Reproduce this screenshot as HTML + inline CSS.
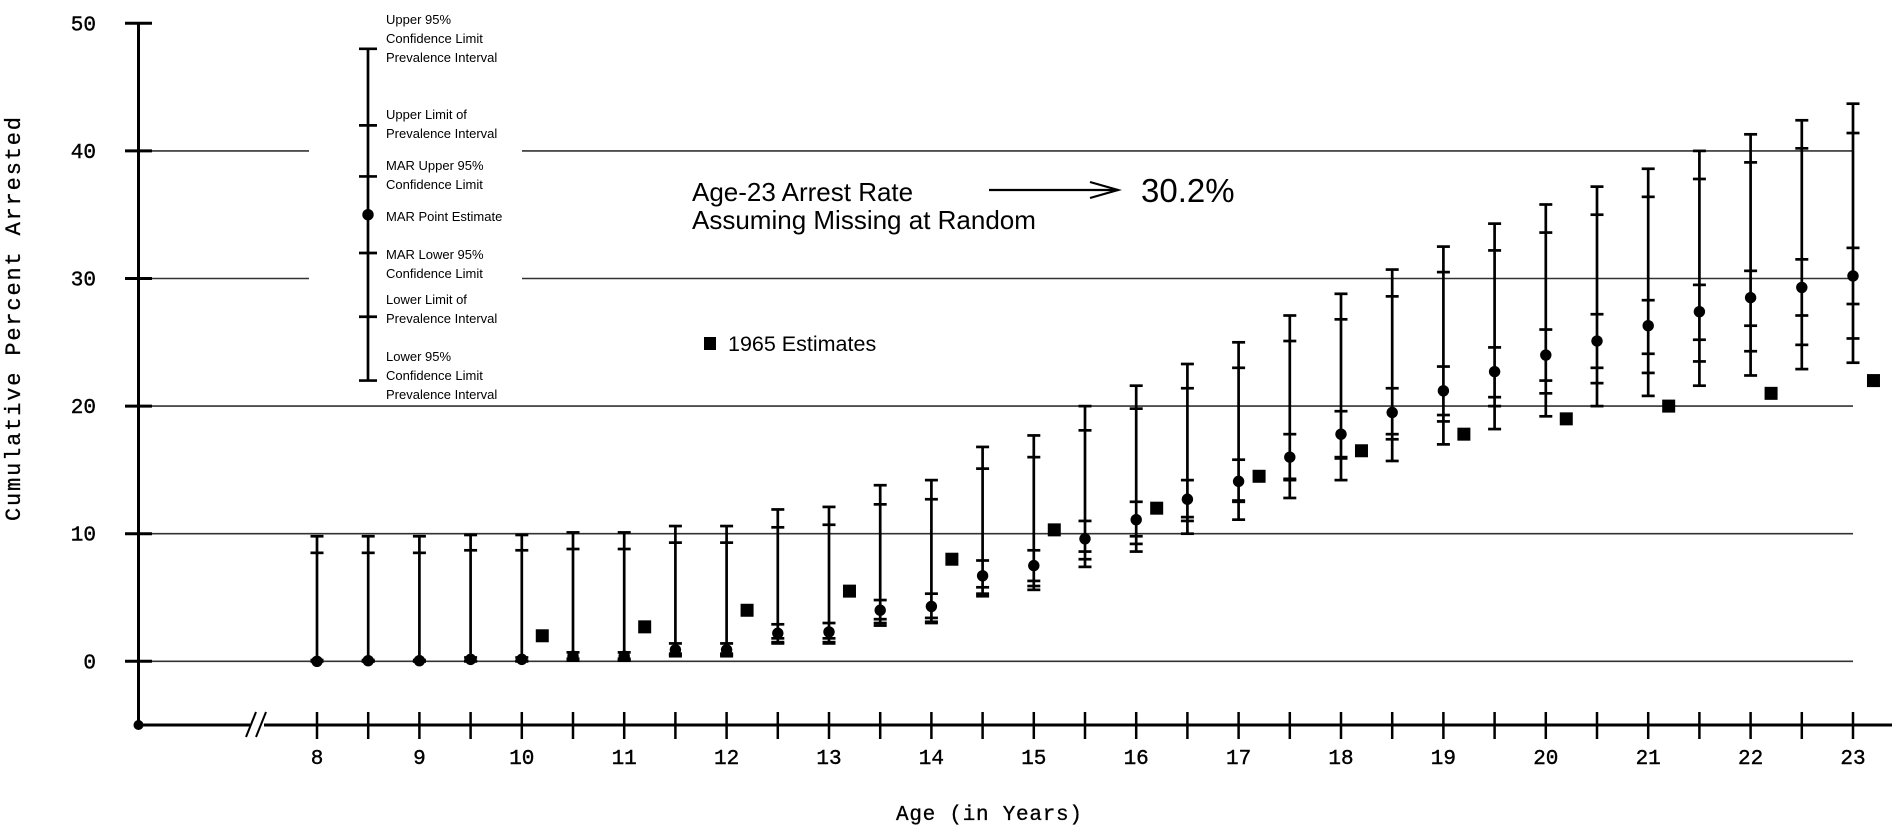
<!DOCTYPE html>
<html><head><meta charset="utf-8"><style>
html,body{margin:0;padding:0;background:#fff;}
svg{display:block;}
</style></head><body>
<svg id="chart" width="1892" height="829" viewBox="0 0 1892 829" xmlns="http://www.w3.org/2000/svg">
<g id="grid"></g>
<g id="axes"></g>
<g id="legend"></g>
<g id="bars"></g>
<g id="squares"></g>
<text x="692" y="201" font-family="Liberation Sans, sans-serif" font-size="26">Age-23 Arrest Rate</text>
<text x="692" y="229" font-family="Liberation Sans, sans-serif" font-size="26">Assuming Missing at Random</text>
<g stroke="#000" stroke-width="2.2" fill="none">
<line x1="989" y1="190" x2="1118" y2="190"/><polyline points="1090,182 1118,190 1090,198"/></g>
<text x="1141" y="202" font-family="Liberation Sans, sans-serif" font-size="33">30.2%</text>
<rect x="704" y="337" width="12" height="13" fill="#000"/>
<text x="728" y="351" font-family="Liberation Sans, sans-serif" font-size="21.5">1965 Estimates</text>
<text transform="translate(20,319) rotate(-90)" text-anchor="middle" font-family="Liberation Mono, monospace" font-size="22" stroke="#000" stroke-width="0.3" textLength="404" lengthAdjust="spacing">Cumulative Percent Arrested</text>
<text x="989" y="820" text-anchor="middle" font-family="Liberation Mono, monospace" font-size="21" stroke="#000" stroke-width="0.3" textLength="186" lengthAdjust="spacing">Age (in Years)</text>
</svg>
<script>
const ages = [8,8.5,9,9.5,10,10.5,11,11.5,12,12.5,13,13.5,14,14.5,15,15.5,16,16.5,17,17.5,18,18.5,19,19.5,20,20.5,21,21.5,22,22.5,23];
const upper95 = [9.8,9.8,9.8,9.9,9.9,10.1,10.1,10.6,10.6,11.9,12.1,13.8,14.2,16.8,17.7,20.0,21.6,23.3,25.0,27.1,28.8,30.7,32.5,34.3,35.8,37.2,38.6,40.0,41.3,42.4,43.7];
const upperPI = [8.5,8.5,8.5,8.7,8.7,8.8,8.8,9.3,9.3,10.5,10.7,12.3,12.7,15.1,16.0,18.1,19.8,21.4,23.0,25.1,26.8,28.6,30.5,32.2,33.6,35.0,36.4,37.8,39.1,40.2,41.4];
const marUpper = [0.1,0.1,0.1,0.3,0.3,0.7,0.7,1.4,1.4,2.9,3.0,4.8,5.3,7.9,8.7,11.0,12.5,14.2,15.8,17.8,19.6,21.4,23.1,24.6,26.0,27.2,28.3,29.5,30.6,31.5,32.4];
const pointEst = [0,0.05,0.05,0.15,0.15,0.4,0.4,0.9,0.9,2.2,2.3,4.0,4.3,6.7,7.5,9.6,11.1,12.7,14.1,16.0,17.8,19.5,21.2,22.7,24.0,25.1,26.3,27.4,28.5,29.3,30.2];
const marLower = [0,0,0,0.05,0.05,0.2,0.2,0.6,0.6,1.8,1.8,3.3,3.4,5.8,6.3,8.6,9.8,11.3,12.6,14.3,16.0,17.8,19.3,20.7,22.0,23.0,24.1,25.2,26.3,27.1,28.0];
const lowerPI = [0,0,0,0,0,0.1,0.1,0.5,0.5,1.5,1.5,3.0,3.1,5.3,5.9,8.0,9.2,11.0,12.5,14.2,15.9,17.4,18.8,20.0,21.0,21.8,22.6,23.5,24.3,24.8,25.3];
const lower95 = [0,0,0,0,0,0.05,0.05,0.4,0.4,1.4,1.4,2.8,3.0,5.1,5.6,7.4,8.6,10.0,11.1,12.8,14.2,15.7,17.0,18.2,19.2,20.0,20.8,21.6,22.4,22.9,23.4];
const est1965Ages = [10.2,11.2,12.2,13.2,14.2,15.2,16.2,17.2,18.2,19.2,20.2,21.2,22.2,23.2];
const est1965Vals = [2.0,2.7,4.0,5.5,8.0,10.3,12.0,14.5,16.5,17.8,19.0,20.0,21.0,22.0];
const yTicks = [0,10,20,30,40,50];
const xTickLabels = [8,9,10,11,12,13,14,15,16,17,18,19,20,21,22,23];
const legendVals = [48,42,38,35,32,27,22];

const NS='http://www.w3.org/2000/svg';
function X(a){return 317+(a-8)*102.4;}
function Y(v){return 661.3-v*12.76;}
function mk(parent,tag,attrs){const e=document.createElementNS(NS,tag);for(const k in attrs)e.setAttribute(k,attrs[k]);parent.appendChild(e);return e;}
const grid=document.getElementById('grid'),axes=document.getElementById('axes'),bars=document.getElementById('bars'),sq=document.getElementById('squares'),leg=document.getElementById('legend');

yTicks.forEach(v=>{
  const y=Y(v);
  if(v<50){
    if(v===30||v===40){
      let l=mk(grid,'line',{x1:138,y1:y,x2:309,y2:y,stroke:'#333','stroke-width':1.6});
      
      
      let r=mk(grid,'line',{x1:522,y1:y,x2:X(23),y2:y,stroke:'#333','stroke-width':1.6});
      
      
    } else {
      let l=mk(grid,'line',{x1:138,y1:y,x2:X(23),y2:y,stroke:'#333','stroke-width':1.6});
      
      
    }
  }
  let t=mk(axes,'line',{x1:125,y1:y,x2:152,y2:y,stroke:'#000','stroke-width':3});
  
  
  let tx=mk(axes,'text',{x:96,y:y+7,'text-anchor':'end','font-family':'Liberation Mono, monospace','font-size':21,stroke:'#000','stroke-width':0.4});
  
  
  tx.textContent=v;
});
let ya=mk(axes,'line',{x1:138.5,y1:Y(50),x2:138.5,y2:725,stroke:'#000','stroke-width':3});


let od=mk(axes,'circle',{cx:138.5,cy:725,r:5,fill:'#000'});


let xa=mk(axes,'line',{x1:138,y1:725,x2:1892,y2:725,stroke:'#000','stroke-width':3});


let brk=mk(axes,'rect',{x:250,y:716,width:14,height:18,fill:'#fff'});


[0,10].forEach(d=>{let b=mk(axes,'line',{x1:246+d,y1:737,x2:256+d,y2:712,stroke:'#000','stroke-width':2});

});
ages.forEach(a=>{let t=mk(axes,'line',{x1:X(a),y1:712,x2:X(a),y2:739,stroke:'#000','stroke-width':2.5});

});
xTickLabels.forEach(a=>{let t=mk(axes,'text',{x:X(a),y:764,'text-anchor':'middle','font-family':'Liberation Mono, monospace','font-size':21,stroke:'#000','stroke-width':0.4});


t.textContent=a;});

function drawBar(g,x,vals,pt){
  mk(g,'line',{x1:x,y1:Y(vals[0]),x2:x,y2:Y(vals[vals.length-1]),stroke:'#000','stroke-width':2.7});
  vals.forEach(v=>mk(g,'line',{x1:x-6.5,y1:Y(v),x2:x+6.5,y2:Y(v),stroke:'#000','stroke-width':2.7}));
  mk(g,'circle',{cx:x,cy:Y(pt),r:5.7,fill:'#000'});
}
ages.forEach((a,i)=>{
  const g=mk(bars,'g',{});
  
  
  drawBar(g,X(a),[upper95[i],upperPI[i],marUpper[i],marLower[i],lowerPI[i],lower95[i]],pointEst[i]);
});
est1965Ages.forEach((a,i)=>{
  const r=mk(sq,'rect',{x:X(a)-6.5,y:Y(est1965Vals[i])-6.5,width:13,height:13,fill:'#000'});
  
  
});
(function(){
  const lx=368;
  const g=mk(leg,'g',{});
  
  
  const yv=v=>Y(v);
  mk(g,'line',{x1:lx,y1:yv(48),x2:lx,y2:yv(22),stroke:'#000','stroke-width':2.7});
  legendVals.forEach((v,i)=>{ if(i===3) mk(g,'circle',{cx:lx,cy:yv(v),r:5.7,fill:'#000'}); else mk(g,'line',{x1:lx-9,y1:yv(v),x2:lx+9,y2:yv(v),stroke:'#000','stroke-width':2.7});});
  const lines=[[24,'Upper 95%'],[43,'Confidence Limit'],[62,'Prevalence Interval'],[119,'Upper Limit of'],[138,'Prevalence Interval'],[170,'MAR Upper 95%'],[189,'Confidence Limit'],[221,'MAR Point Estimate'],[259,'MAR Lower 95%'],[278,'Confidence Limit'],[304,'Lower Limit of'],[323,'Prevalence Interval'],[361,'Lower 95%'],[380,'Confidence Limit'],[399,'Prevalence Interval']];
  lines.forEach(l=>{const t=mk(leg,'text',{x:386,y:l[0],'font-family':'Liberation Sans, sans-serif','font-size':13});
  
  
  t.textContent=l[1];});
})();
</script>
</body></html>
